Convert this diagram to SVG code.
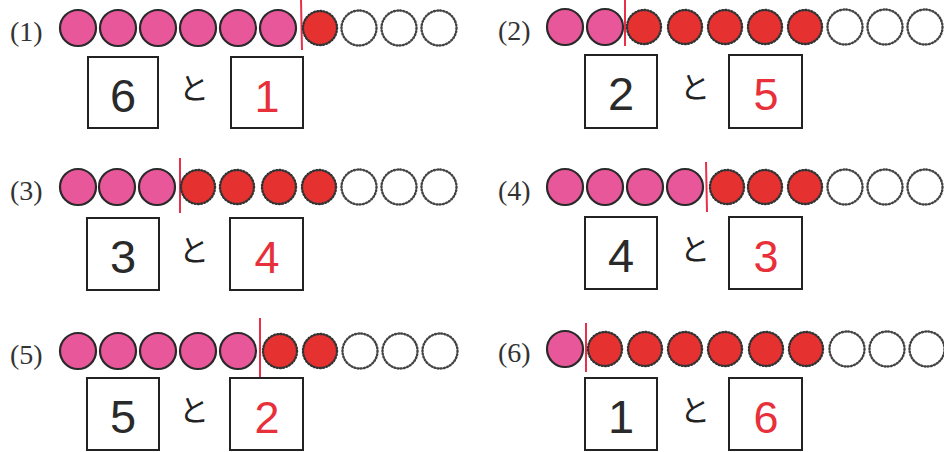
<svg xmlns="http://www.w3.org/2000/svg" width="944" height="452" viewBox="0 0 944 452">
<defs>
<style>
.lbl{font-family:"Liberation Serif","Times New Roman",serif;font-size:28px;fill:#333}
.pk{fill:#E8579A;stroke:#2a2a2a;stroke-width:2.2}
.rd{fill:#E5312F;stroke:#333;stroke-width:2.4;stroke-dasharray:1 2.2;stroke-linecap:round}
.em{fill:#fff;stroke:#444;stroke-width:2.4;stroke-dasharray:1 2.2;stroke-linecap:round}
.sep{stroke:#E8304A;stroke-width:2;fill:none}
.box{fill:#fff;stroke:#222;stroke-width:2}
.num{font-family:"Liberation Sans",Arial,sans-serif;font-size:47px;fill:#2a2a2a;text-anchor:middle}
.ans{font-family:"Liberation Sans",Arial,sans-serif;font-size:45px;fill:#E8303A;text-anchor:middle;font-weight:300}
.to{font-family:"Noto Sans CJK JP","Noto Sans",sans-serif;font-size:30px;fill:#222;text-anchor:middle}
</style>
</defs>
<rect width="944" height="452" fill="#fff"/>

<g id="p1">
<text class="lbl" x="10" y="41">(1)</text>
<circle class="pk" cx="78" cy="28" r="18"/><circle class="pk" cx="118" cy="28" r="18"/><circle class="pk" cx="158" cy="28" r="18"/><circle class="pk" cx="198" cy="28" r="18"/><circle class="pk" cx="238" cy="28" r="18"/><circle class="pk" cx="278" cy="28" r="18"/>
<line class="sep" x1="301" y1="0" x2="302" y2="50"/>
<circle class="rd" cx="320" cy="28" r="17"/>
<circle class="em" cx="359" cy="28" r="17.5"/><circle class="em" cx="399" cy="28" r="17.5"/><circle class="em" cx="439" cy="28" r="17.5"/>
<rect class="box" x="88" y="57" width="70" height="71"/>
<text class="num" x="123" y="112">6</text>
<text class="to" x="194" y="99">と</text>
<rect class="box" x="231" y="57" width="72" height="71"/>
<text class="ans" x="267" y="112">1</text>
</g>

<g id="p2">
<text class="lbl" x="498" y="40">(2)</text>
<circle class="pk" cx="565" cy="27" r="18"/><circle class="pk" cx="605" cy="27" r="18"/>
<line class="sep" x1="625" y1="0" x2="625" y2="46"/>
<circle class="rd" cx="644" cy="27" r="17"/><circle class="rd" cx="685" cy="27" r="17"/><circle class="rd" cx="725" cy="27" r="17"/><circle class="rd" cx="765" cy="27" r="17"/><circle class="rd" cx="805" cy="27" r="17"/>
<circle class="em" cx="845" cy="27" r="17.5"/><circle class="em" cx="885" cy="27" r="17.5"/><circle class="em" cx="925" cy="27" r="17.5"/>
<rect class="box" x="585" y="55" width="72" height="73"/>
<text class="num" x="621" y="110">2</text>
<text class="to" x="695" y="98">と</text>
<rect class="box" x="729" y="55" width="73" height="73"/>
<text class="ans" x="766" y="110">5</text>
</g>

<g id="p3">
<text class="lbl" x="10" y="200">(3)</text>
<circle class="pk" cx="78" cy="187" r="18"/><circle class="pk" cx="117" cy="187" r="18"/><circle class="pk" cx="157" cy="187" r="18"/>
<line class="sep" x1="180" y1="158" x2="180" y2="213"/>
<circle class="rd" cx="198" cy="187" r="17"/><circle class="rd" cx="237" cy="187" r="17"/><circle class="rd" cx="279" cy="187" r="17"/><circle class="rd" cx="319" cy="187" r="17"/>
<circle class="em" cx="359" cy="187" r="17.5"/><circle class="em" cx="399" cy="187" r="17.5"/><circle class="em" cx="439" cy="187" r="17.5"/>
<rect class="box" x="87" y="218" width="72" height="72"/>
<text class="num" x="123" y="273">3</text>
<text class="to" x="194" y="261">と</text>
<rect class="box" x="230" y="218" width="73" height="72"/>
<text class="ans" x="267" y="273">4</text>
</g>

<g id="p4">
<text class="lbl" x="498" y="200">(4)</text>
<circle class="pk" cx="565" cy="187" r="18"/><circle class="pk" cx="605" cy="187" r="18"/><circle class="pk" cx="645" cy="187" r="18"/><circle class="pk" cx="685" cy="187" r="18"/>
<line class="sep" x1="706" y1="162" x2="707" y2="212"/>
<circle class="rd" cx="727" cy="187" r="17"/><circle class="rd" cx="765" cy="187" r="17"/><circle class="rd" cx="805" cy="187" r="17"/>
<circle class="em" cx="845" cy="187" r="17.5"/><circle class="em" cx="885" cy="187" r="17.5"/><circle class="em" cx="925" cy="187" r="17.5"/>
<rect class="box" x="585" y="217" width="72" height="72"/>
<text class="num" x="621" y="272">4</text>
<text class="to" x="695" y="260">と</text>
<rect class="box" x="729" y="217" width="73" height="72"/>
<text class="ans" x="766" y="272">3</text>
</g>

<g id="p5">
<text class="lbl" x="10" y="364">(5)</text>
<circle class="pk" cx="78" cy="351" r="18"/><circle class="pk" cx="118" cy="351" r="18"/><circle class="pk" cx="158" cy="351" r="18"/><circle class="pk" cx="198" cy="351" r="18"/><circle class="pk" cx="238" cy="351" r="18"/>
<line class="sep" x1="260" y1="318" x2="260" y2="377"/>
<circle class="rd" cx="280" cy="351" r="17"/><circle class="rd" cx="320" cy="351" r="17"/>
<circle class="em" cx="360" cy="351" r="17.5"/><circle class="em" cx="400" cy="351" r="17.5"/><circle class="em" cx="440" cy="351" r="17.5"/>
<rect class="box" x="87" y="378" width="72" height="72"/>
<text class="num" x="123" y="433">5</text>
<text class="to" x="194" y="421">と</text>
<rect class="box" x="230" y="378" width="73" height="72"/>
<text class="ans" x="267" y="433">2</text>
</g>

<g id="p6">
<text class="lbl" x="498" y="362">(6)</text>
<circle class="pk" cx="565" cy="349" r="18"/>
<line class="sep" x1="586" y1="323" x2="586" y2="372"/>
<circle class="rd" cx="605" cy="349" r="17"/><circle class="rd" cx="645" cy="349" r="17"/><circle class="rd" cx="685" cy="349" r="17"/><circle class="rd" cx="725" cy="349" r="17"/><circle class="rd" cx="766" cy="349" r="17"/><circle class="rd" cx="806" cy="349" r="17"/>
<circle class="em" cx="847" cy="349" r="17.5"/><circle class="em" cx="887" cy="349" r="17.5"/><circle class="em" cx="927" cy="349" r="17.5"/>
<rect class="box" x="585" y="378" width="72" height="72"/>
<text class="num" x="621" y="433">1</text>
<text class="to" x="695" y="421">と</text>
<rect class="box" x="729" y="378" width="73" height="72"/>
<text class="ans" x="766" y="433">6</text>
</g>
</svg>
